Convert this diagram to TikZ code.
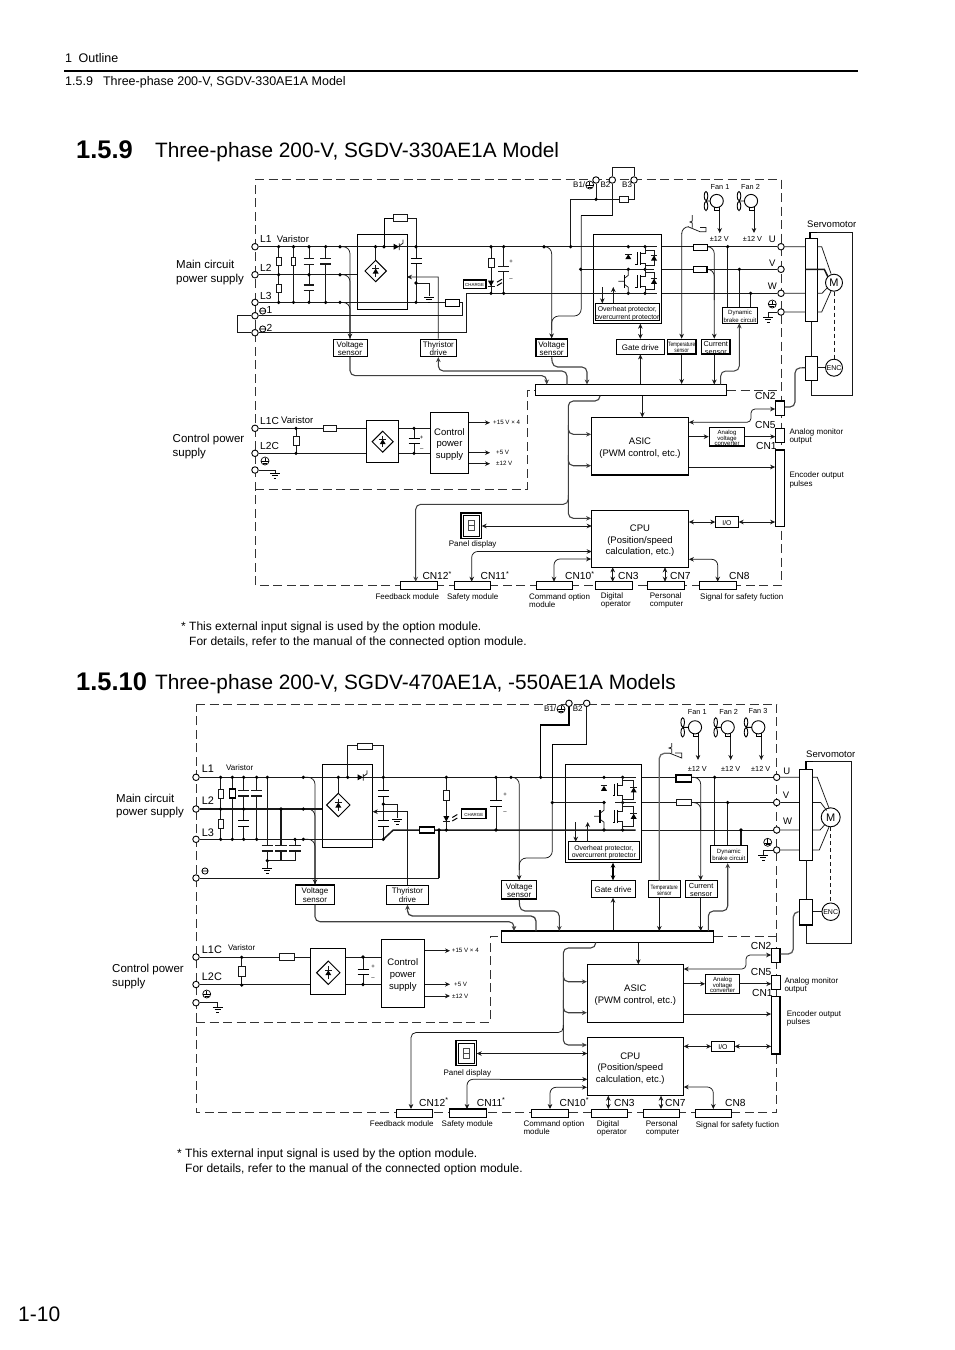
\documentclass[tikz,border=0pt]{standalone}
\usepackage{fontspec}
\setmainfont{Liberation Sans}
\usetikzlibrary{arrows.meta,calc}
\newcommand{\fn}[2]{\fontsize{#1}{#2}\selectfont}
\tikzset{
  wire/.style={line width=.75pt,black!90},
  thk/.style={line width=1.5pt,black!90},
  sig/.style={line width=1.1pt,black!75,rounded corners=5pt},
  rnd/.style={rounded corners=7pt},
  arr/.style={-{Stealth[length=5pt,width=4.6pt]}},
  darr/.style={{Stealth[length=5pt,width=4.6pt]}-{Stealth[length=5pt,width=4.6pt]}},
  frame/.style={line width=1pt,black!80,dash pattern=on 9pt off 4.5pt},
  box/.style={draw,line width=.8pt,fill=white,inner sep=0pt},
  boxb/.style={box,line width=1.2pt},
  term/.style={circle,draw,fill=white,line width=.9pt,inner sep=0pt,minimum size=6.5pt},
  lbl/.style={inner sep=0pt,anchor=west,align=left,yshift=-1.8pt,execute at begin node=\strut,execute at end node=\strut},
  mid/.style={lbl,anchor=center,align=center},
  fm/.style={font=\fn{11.5}{13.5}},
  fn/.style={font=\fn{12}{15}},
  fh/.style={font=\fn{12.5}{14}},
  fa/.style={font=\fn{10.2}{12}},
  fb/.style={font=\fn{9.5}{11.7}},
  fc/.style={font=\fn{8}{8.4}},
  fd/.style={font=\fn{7.3}{8}},
  fe/.style={font=\fn{6.9}{7.6}},
  ff/.style={font=\fn{6.1}{7.4}},
  fg/.style={font=\fn{4.4}{5}},
  fv/.style={font=\fn{6.2}{5}},
  fw/.style={font=\fn{6}{5.3}},
  fx/.style={font=\fn{10.9}{12}},
  ft/.style={font=\fn{20.8}{24}},
  fz/.style={font=\fn{25.5}{26}\bfseries},
}
\newcommand{\boxat}[7][box]{\node[#1,minimum width={(#5-#3)*1pt},minimum height={(#6-#4)*1pt}] (#2) at ({(#3+#5)/2},{(#4+#6)/2}) {\raisebox{\dimexpr-1.8pt-.25em\relax}[0pt][0pt]{\begin{tabular}{@{}c@{}}#7\end{tabular}}};}
\newcommand{\resbox}[5][wire]{\draw[#1,fill=white] (#2,#3) rectangle (#4,#5);}
\newcommand{\capv}[5][line width=1pt]{\fill[white] (#2-1.5,#3) rectangle (#2+1.5,#4); \draw[#1] (#2-#5,#3) -- (#2+#5,#3) (#2-#5,#4) -- (#2+#5,#4);}
\newcommand{\diodev}[2]{\fill ({#1-3},{#2+2.5}) -- ({#1+3},{#2+2.5}) -- (#1,{#2-2.5}) -- cycle; \draw[wire] ({#1-3.3},{#2-2.5}) -- ({#1+3.3},{#2-2.5});}
\newcommand{\gnd}[2]{\draw[line width=.9pt] (#1-5,#2) -- (#1+5,#2) (#1-3,#2+2.5) -- (#1+3,#2+2.5) (#1-1.3,#2+5) -- (#1+1.3,#2+5);}
\newcommand{\pe}[2]{\draw[line width=.7pt] (#1,#2) circle (4); \draw[line width=.7pt] (#1-3.6,#2+.6) -- (#1+3.6,#2+.6) (#1,#2-3) -- (#1,#2+.6) (#1-2,#2+2.2) -- (#1+2,#2+2.2);}
\newcommand{\minusc}[2]{\draw[line width=.8pt] (#1,#2) circle (3.1) (#1-3.1,#2) -- (#1+3.1,#2);}
\newcommand{\bridge}[3]{\draw[line width=1pt,fill=white] (#1,#2-#3) -- (#1+#3,#2) -- (#1,#2+#3) -- (#1-#3,#2) -- cycle; \draw[wire] (#1,#2-#3*.55) -- (#1,#2+#3*.55); \diodev{#1}{#2}}
\newcommand{\thyr}[2]{\fill (#1-3.5,#2-3) -- (#1-3.5,#2+3) -- (#1+2,#2) -- cycle; \draw[wire] (#1+2.3,#2-3.3) -- (#1+2.3,#2+3.3) (#1+2.5,#2-1) -- (#1+6,#2-3.5) -- (#1+6,#2-7);}
\newcommand{\led}[2]{\fill (#1-3,#2-3) -- (#1+3,#2-3) -- (#1,#2+2.5) -- cycle; \draw[wire] (#1-3.5,#2+2.5) -- (#1+3.5,#2+2.5); \draw[line width=1pt] (#1+6,#2+2) -- (#1+11,#2-1) (#1+6,#2-1.5) -- (#1+11,#2-4.5);}
\newcommand{\igbt}[4]{\draw[wire] (#1,#2) -- (#1,{(#2+#3)/2-5}) -- (#1-5,{(#2+#3)/2-5}) (#1-5,{(#2+#3)/2+5}) -- (#1,{(#2+#3)/2+5}) -- (#1,#3);
  \draw[line width=1pt] (#1-5,{(#2+#3)/2-6.5}) -- (#1-5,{(#2+#3)/2+6.5}) (#1-8,{(#2+#3)/2-6}) -- (#1-8,{(#2+#3)/2+6}) -- (#1-10,{(#2+#3)/2+6});
  \draw[wire] (#1,#2+3.5) -| (#4,#3-3.5) -- (#1,#3-3.5); \diodev{#4}{(#2+#3)/2}}
\newcommand{\bjt}[3]{\draw[wire] (#1,#2) -- (#1,{(#2+#3)/2-6}) -- (#1-4,{(#2+#3)/2-3}) (#1-4,{(#2+#3)/2+3}) -- (#1,{(#2+#3)/2+6}) -- (#1,#3) (#1-10,{(#2+#3)/2}) -- (#1-4,{(#2+#3)/2});
  \draw[line width=1.2pt] (#1-4,{(#2+#3)/2-6.5}) -- (#1-4,{(#2+#3)/2+6.5});}
\newcommand{\fan}[4]{\draw[line width=.9pt] (#1,#2) circle (6.6) (#3,#2) -- (#1-6.6,#2) (#3,#2-5) ellipse (1.8 and 4.6) (#3,#2+5) ellipse (1.8 and 4.6);
  \draw[line width=.9pt] (#1-2,#2+6) -- (#1-2,#2+9.5) -- (#1+3,#2+9.5) -- (#1+3,#2+6);
  \draw[wire,arr] (#1+3,#2+9.5) -- (#1+3,#4);}
\newcommand{\seven}[4]{\draw[line width=1.1pt,fill=white] (#1,#2) rectangle (#3,#4); \draw[line width=.5pt] (#1+2.5,#2+2.5) rectangle (#3-2.5,#4-2.5);
  \draw[line width=.8pt,black!70] ({(#1+#3)/2-2.6},{(#2+#4)/2-5}) rectangle ({(#1+#3)/2+2.6},{(#2+#4)/2+5}) ({(#1+#3)/2-2.6},{(#2+#4)/2}) -- ({(#1+#3)/2+2.6},{(#2+#4)/2});}
\begin{document}
\begin{tikzpicture}[x=1pt,y=-1pt]
  \useasboundingbox (0,0) rectangle (954,1350);
  \node[lbl,fh] (chapter) at (65,57.5) {1\hspace{6.5pt}Outline};
  \draw[line width=2pt] (64,70.7) -- (858,70.7);
  \node[lbl,fh] (section) at (65,81) {1.5.9\hspace{10pt}Three-phase 200-V, SGDV-330AE1A Model};
  \node[lbl,fz] (numA) at (76,151.5) {1.5.9};
  \node[lbl,ft] (titleA) at (155,151) {Three-phase 200-V, SGDV-330AE1A Model};
  \node[lbl,fz] (numB) at (76,683.5) {1.5.10};
  \node[lbl,ft] (titleB) at (155,683) {Three-phase 200-V, SGDV-470AE1A, -550AE1A Models};
  \node[lbl,font=\fn{21}{24}] (pageno) at (18,1315) {1-10};

  % first model
  \draw[frame] (255,179) -- (781,179) -- (781,585) -- (255,585) -- cycle;
  \draw[frame] (255,489) -- (527,489) -- (527,390) -- (535,390) (727,390) -- (781,390);
  \boxat{brgA}{357}{234}{407}{309}{}
  \boxat{igbtA}{593.3}{234.3}{661.7}{323.3}{}
  \boxat[boxb,fe]{ohpA}{595.7}{303.3}{659}{320.7}{Overheat protector,\\overcurrent protector}
  \boxat[box,fc]{vsenseA}{333}{339}{367}{356.7}{Voltage\\sensor}
  \boxat[box,fc]{thyA}{420}{339}{456.7}{356.7}{Thyristor\\drive}
  \boxat[boxb,fc]{vsenseBA}{536}{339}{567.3}{356.7}{Voltage\\sensor}
  \boxat[box,fc]{gateA}{616.7}{339.3}{664}{354}{Gate drive}
  \boxat[boxb,fv]{tempA}{667.3}{339.3}{696}{354}{\scalebox{.78}[1]{Temperature}\\[1pt]\scalebox{.78}[1]{sensor}}
  \boxat[boxb,fd]{curA}{701.7}{339.3}{730}{354}{Current\\sensor}
  \boxat[box,ff]{brakeA}{722.3}{307}{757.7}{323}{Dynamic\\brake circuit}
  \boxat[boxb,fg]{chargeA}{463.3}{280}{486}{288.3}{CHARGE}
  \boxat[box,line width=1pt]{barA}{535.5}{384.5}{726.5}{395.5}{}
  \boxat[boxb]{rectA}{366.7}{420.3}{398.7}{462.3}{}
  \boxat[box,fb]{ctlA}{430.3}{412.3}{468.7}{473}{Control\\power\\supply}
  \boxat[boxb,fb]{asicA}{591.7}{417.3}{688.3}{475}{ASIC\\(PWM control, etc.)}
  \boxat[boxb,fb]{cpuA}{591.7}{510.7}{688.3}{567.3}{CPU\\(Position/speed\\calculation, etc.)}
  \boxat[boxb,fw]{avcA}{709.3}{427.3}{744.7}{446}{Analog\\voltage\\converter}
  \boxat[box,fe]{ioA}{715.7}{516.7}{738.3}{527.3}{I/O}
  \boxat{mA}{805.7}{238.3}{817}{321.7}{}
  \boxat{encbA}{805.7}{356.7}{817}{380.7}{}
  \boxat[boxb]{cn2A}{775.7}{401}{784.3}{415.7}{}
  \boxat[box]{cn5A}{775.7}{428.3}{784.3}{442.3}{}
  \boxat[boxb]{cn1A}{775.7}{450}{784.3}{526.7}{}
  \boxat[box]{cn12A}{400.7}{581.7}{437.7}{589.3}{}
  \boxat[box]{cn11A}{454.3}{581.7}{490.7}{589.3}{}
  \boxat[box]{cn10A}{536.7}{581.7}{572.7}{589.3}{}
  \boxat[boxb]{cn3A}{595.7}{581.7}{632.3}{589.3}{}
  \boxat[box]{cn7A}{647.3}{581.7}{684.7}{589.3}{}
  \boxat[boxb]{cn8A}{699.3}{581.7}{736.7}{589.3}{}
  \foreach \n/\x/\y in {L1A/255/246.7,L2A/255/274.7,L3A/255/302.4,N1A/255/315.7,N2A/255/332.7,L1CA/255/428.3,L2CA/255/453.3,PECA/255/470,B1A/596/180,B2A/612.3/180,B3A/634/180,UA/781/246.7,VA/781/269.3,WA/781/293.3,PEA/781/312}
    \node[term] (\n) at (\x,\y) {};
  \node[circle,draw,line width=.9pt,inner sep=0pt,minimum size=17pt,fill=white,font=\fn{11}{11}] (motorA) at (834,282.7) {M};
  \node[circle,draw,line width=.9pt,inner sep=0pt,minimum size=17pt,fill=white,font=\fn{7}{7}] (encA) at (834,367.7) {ENC};

  \draw[wire] (L1A) -- (657,246.7);
  \draw[wire] (igbtA.east |- L1A) -- (UA);
  \draw[wire] (L2A) -- (L2A -| brgA.west);
  \draw[wire] (L3A) -- (462,302.4) -- (462,315.7) -- (N1A);
  \draw[thk] (N1A) -- (237.3,315.7);
  \draw[wire] (237.3,315.7) -- (237.3,332.7) -- (N2A);
  \draw[thk] (N2A) -- (466.7,332.7);
  \draw[wire] (466.7,332.7) -- (466.7,293.3) -- (657,293.3);
  \draw[wire] (igbtA.east |- WA) -- (WA);
  \draw[wire] (580.7,269.3) -- (654,269.3);
  \draw[thk] (igbtA.east |- VA) -- (VA);
  \draw[wire] (278.7,246.7) -- (278.7,302.4) (293.5,246.7) -- (293.5,302.4) (309,246.7) -- (309,302.4) (325.7,246.7) -- (325.7,302.4);
  \draw[wire,rnd,arr] (340,246.7) -| (vsenseA.north);
  \draw[wire,rnd] (340,274.7) -| (vsenseA.north);
  \draw[wire,rnd] (340,302.4) -| (vsenseA.north);
  \draw[sig,arr] (vsenseA.south) -- (350,375.6) -| (546.7,384.5);
  \draw[sig,arr] (567,384.5) |- (438.3,371) -- (thyA.south);
  \draw[wire,arr] (thyA.north) -- (438.3,277) [rounded corners=5pt] -- (407,277);
  \draw[line width=1pt] (384,246.7) |- (393,218);
  \draw[wire] (407,218) -| (416,302.4);
  \draw[wire] (375.5,246.7) -- (375.5,262);
  \draw[wire] (416,283) -| (429,296);
  \draw[wire] (491,246.7) -- (491,293.3) (503.7,246.7) -- (503.7,293.3);
  \draw[wire,rnd,arr] (544,246.7) -| (vsenseBA.north);
  \draw[wire] (570.7,246.7) |- (B1A |- 0,199.3) -- (619.3,199.3);
  \draw[wire] (628.3,199.3) -| (B3A);
  \draw[wire] (B1A) -- (596,199.3);
  \draw[wire] (B2A) -- (612.3,167.3) -| (B3A);
  \draw[wire] (B2A) -- (612.3,215.7);
  \draw[line width=1.2pt] (612.3,215.7) -- (581.2,215.7);
  \draw[wire] (581.2,215.7) -- (581.2,300) [rnd] -- (581.2,316) -- (551.7,316) -- (551.7,330);
  \draw[sig,arr] (vsenseBA.south) -- (552.7,367) -| (587,384.5);
  \draw[thk,arr] (602.3,287) -- (602.3,303.3);
  \draw[wire,arr] (613.3,303.3) -- (613.3,287);
  \draw[wire,darr] (igbtA.south -| gateA) -- (gateA.north);
  \draw[wire,arr] (gateA.south |- barA.north) -- (gateA.south);
  \draw[thk,arr] (tempA.south) -- (tempA.south |- barA.north);
  \draw[thk,arr] (curA.south -| 714.3,0) -- (714.3,384.5);
  \draw[sig,arr,line width=1pt] (720.7,384.5) -- (720.7,371) -- (739.3,371) -- (brakeA.south -| 739.3,0);
  \draw[wire,arr] (681.7,233) -- (tempA.north);
  \draw[wire,rnd] (681.7,233) -- (681.7,226.7) -- (688,226.7);
  \draw[wire] (688,226.7) -- (700,231.7) -- (706,231.7) -- (706,227.5) -- (700,227.5) (692.3,215) -- (692.3,221) -- (690,222) -- (692.3,223) -- (692.3,227.5);
  \draw[wire,rnd,arr] (707,246.7) -| (curA.north -| 714.3,0);
  \draw[wire,rnd] (707,269.3) -| (714.3,300);
  \draw[wire] (727.7,246.7) -- (727.7,307) (739.3,269.3) -- (739.3,307) (750.7,293.3) -- (750.7,307);
  \draw[wire] (UA) -- (mA.west |- UA) (mA.east |- UA) -- (821.7,246.7) -- (831,273.6);
  \draw[thk] (mA.west |- VA) -- (mA.east |- VA) -- (824.3,269.3) -- (828,277);
  \draw[wire] (WA) -- (mA.west |- WA) (mA.east |- WA) -- (822,293.3) -- (827.5,287.5);
  \draw[wire] (PEA) -- (mA.west |- PEA) (mA.east |- PEA) -- (821.7,312) -- (831,291);
  \draw[wire] (PEA) -| (768.3,316.7);
  \draw[wire] (816.7,232.7) -- (852.7,232.7) -- (852.7,395) -- (811.7,395) -- (encbA.south -| 811.7,0);
  \draw[line width=1.3pt] (810,238) -- (810,232.7) -- (816.7,232.7);
  \draw[wire] (mA.south -| 811.7,0) -- (811.7,356.7);
  \draw[wire] (encbA.east |- encA) -- (encA);
  \draw[wire,dash pattern=on 4pt off 3pt] (motorA) -- (encA);
  \draw[sig] (cn2A.east |- 0,407) -- (795,407) -- (795,368) -- (encbA.west |- encA);
  \draw[wire] (296,428.3) -- (296,453.3);
  \draw[wire] (L1CA) -- (rectA.west |- L1CA) (L2CA) -- (rectA.west |- L2CA);
  \draw[wire] (rectA.east |- L1CA) -- (ctlA.west |- L1CA) (rectA.east |- L2CA) -- (ctlA.west |- L2CA) (414,428.3) -- (414,453.3);
  \draw[wire] (PECA) -- (275,470) -- (275,473);
  \draw[thk,arr] (ctlA.east |- 0,422.7) -- (490,422.7);
  \draw[wire,arr] (ctlA.east |- 0,452.7) -- (490,452.7);
  \draw[thk,arr] (ctlA.east |- 0,463.7) -- (490,463.7);
  \draw[sig,arr] (600,395.5) -- (600,401) -- (568.3,401) -- (568.3,518.3) -- (cpuA.west |- 0,518.3);
  \draw[sig,arr] (568.3,425) |- (asicA.west |- 0,434.3);
  \draw[sig,arr] (568.3,455) |- (asicA.west |- 0,465.7);
  \draw[sig,arr,line width=1pt] (568.3,495) -- (568.3,504.3) -- (415.7,504.3) -- (415.7,581.7);
  \draw[wire,darr] (481.7,526) -- (591.7,526);
  \draw[wire,rounded corners=6pt,arr] (500,551.5) -- (471.7,551.5) -- (471.7,581.7);
  \draw[wire,arr] (500,551.5) -- (591.7,551.5);
  \draw[wire,darr,rounded corners=6pt] (cpuA.west |- 0,559) -- (554,559) -- (554,581.7);
  \draw[wire,darr] (612.7,567.3) -- (612.7,581.7);
  \draw[wire,darr] (665,567.3) -- (665,581.7);
  \draw[wire,darr,rounded corners=6pt] (cpuA.east |- 0,559.3) -- (717.7,559.3) -- (717.7,581.7);
  \draw[wire,arr] (barA.south -| 642.3,0) -- (642.3,417.3);
  \draw[wire,darr,rounded corners=4pt] (asicA.east |- 0,422.3) -- (751,422.3) -- (751,409) -- (cn2A.west |- 0,409);
  \draw[wire,arr] (asicA.east |- avcA) -- (avcA.west);
  \draw[wire,arr] (avcA.east) -- (cn5A.west |- avcA);
  \draw[wire,arr] (asicA.east |- 0,467) -- (cn1A.west |- 0,467);
  \draw[wire,darr] (cpuA.east |- ioA) -- (ioA.west);
  \draw[wire,darr] (ioA.east) -- (cn1A.west |- ioA);

  \foreach \x/\y in {278.7/246.7,293.5/246.7,309/246.7,325.7/246.7,340/246.7,340/274.7,340/302.4,278.7/274.7,309/274.7,278.7/302.4,293.5/302.4,309/302.4,325.7/302.4,375.5/246.7,384/246.7,416/246.7,416/283,416/302.4,491/246.7,503.7/246.7,544/246.7,570.7/246.7,491/293.3,503.7/293.3,596/199.3,580.7/269.3,628.3/246.7,645/246.7,628.3/269.3,645/269.3,628.3/293.3,645/293.3,727.7/246.7,739.3/269.3,750.7/293.3,296/428.3,296/453.3,414/428.3,414/453.3}
    \fill (\x,\y) circle (1.8);
  \resbox{276.3}{257.7}{281.7}{265.3}
  \resbox{276.3}{284.3}{281.7}{292.3}
  \resbox{291.3}{257.7}{295.7}{265.3}
  \capv[thk]{309}{258.3}{264.3}{5.3}
  \capv[thk]{309}{285}{290.7}{5.3}
  \capv[thk]{325.7}{258.7}{264}{5.3}
  \bridge{375.7}{271}{10.7}
  \thyr{397}{246.7}
  \resbox{393}{214}{407}{221.5}
  \capv{416}{258.3}{263.7}{5.5}
  \gnd{429}{297}
  \resbox[line width=1pt]{445}{299}{459}{306.7}
  \resbox{488}{258.3}{494}{267.3}
  \led{491}{283.7}
  \capv[thk]{503.7}{266.7}{271.7}{5.3}
  \node[mid,font=\fn{6}{6}] (plusA) at (511,260) {+};
  \node[mid,font=\fn{6}{6}] (minusA) at (511,277) {--};
  \resbox{619.3}{196.3}{628.3}{202.3}
  \diodev{628.3}{256.7}
  \bjt{628.3}{269.3}{293.3}
  \igbt{645}{246.7}{269.3}{654}
  \igbt{645}{269.3}{293.3}{654}
  \resbox[line width=1pt]{693.3}{244.3}{707}{250}
  \resbox[line width=1.3pt]{693.3}{266.3}{707}{272.3}
  \fan{716.7}{201}{706}{233}
  \fan{751}{201}{739}{233}
  \pe{772.3}{304}
  \gnd{768.3}{317}
  \minusc{262.7}{311}
  \minusc{262.7}{329}
  \resbox{293}{436.7}{299}{445.3}
  \resbox{323.3}{425}{336.7}{431.5}
  \bridge{382.7}{441.7}{10.5}
  \capv{414}{438.3}{443.7}{5.5}
  \node[mid,font=\fn{6}{6}] (plusCA) at (421.7,436.7) {+};
  \node[mid,font=\fn{6}{6}] (minusCA) at (421.7,447) {--};
  \pe{265}{461}
  \gnd{275}{473}
  \seven{461}{513}{481.7}{538.3}

  \node[lbl,fm] (mainA) at (176,271.5) {Main circuit\\power supply};
  \node[lbl,fm] (ctlpsA) at (172.5,445.5) {Control power\\supply};
  \node[lbl,fa] (tL1A) at (260,238) {L1};
  \node[lbl,fa] (tL2A) at (260,267) {L2};
  \node[lbl,fa] (tL3A) at (260,295) {L3};
  \node[lbl,fb] (tVarA) at (276.7,238) {Varistor};
  \node[lbl,fa] (tN1A) at (266.5,309) {1};
  \node[lbl,fa] (tN2A) at (266.5,327) {2};
  \node[lbl,fa] (tL1CA) at (260,420) {L1C};
  \node[lbl,fa] (tL2CA) at (260,445.7) {L2C};
  \node[lbl,fb] (tVarCA) at (281,419) {Varistor};
  \node[lbl,fc] (tB1A) at (573,184) {B1/};
  \pe{589.7}{185}
  \node[lbl,fc] (tB2A) at (600.3,184) {B2};
  \node[lbl,fc] (tB3A) at (622,184) {B3};
  \node[mid,fd] (tF1A) at (720,186) {Fan 1};
  \node[mid,fd] (tF2A) at (750.5,186) {Fan 2};
  \node[mid,fd] (tV1A) at (719.3,238) {±12 V};
  \node[mid,fd] (tV2A) at (752.5,238) {±12 V};
  \node[mid,fb] (tUA) at (772.3,238) {U};
  \node[mid,fb] (tVA) at (772.3,262) {V};
  \node[mid,fb] (tWA) at (772.3,285) {W};
  \node[lbl,fb] (tServoA) at (807,223) {Servomotor};
  \node[lbl,fv] (t15A) at (493,421.7) {+15 V × 4};
  \node[lbl,fv] (t5A) at (496,451.7) {+5 V};
  \node[lbl,fv] (t12A) at (496,462.7) {±12 V};
  \node[mid,fc] (tPanelA) at (472.7,543) {Panel display};
  \node[mid,fc] (tFbA) at (407.3,596.3) {Feedback module};
  \node[mid,fc] (tSafeA) at (472.7,596.3) {Safety module};
  \node[lbl,fc] (tCmdA) at (529,600) {Command option\\module};
  \node[lbl,fc] (tDigA) at (600.7,599) {Digital\\operator};
  \node[lbl,fc] (tPcA) at (649.7,599) {Personal\\computer};
  \node[lbl,fc] (tSigA) at (700,596.3) {Signal for safety fuction};
  \node[lbl,fc] (tAmoA) at (789.3,435) {Analog monitor\\output};
  \node[lbl,fc] (tEncA) at (789.3,478.5) {Encoder output\\pulses};
  \node[lbl,fa] (tCN12A) at (422.3,575.5) {CN12\textsuperscript{*}};
  \node[lbl,fa] (tCN11A) at (480.5,575.5) {CN11\textsuperscript{*}};
  \node[lbl,fa] (tCN10A) at (565,575.5) {CN10\textsuperscript{*}};
  \node[lbl,fa] (tCN3A) at (618,575.5) {CN3};
  \node[lbl,fa] (tCN7A) at (670,575.5) {CN7};
  \node[lbl,fa] (tCN8A) at (729,575.5) {CN8};
  \node[lbl,fa] (tCN2A) at (755,395.7) {CN2};
  \node[lbl,fa] (tCN5A) at (755,424.5) {CN5};
  \node[lbl,fa] (tCN1A) at (756,445) {CN1};
  \node[lbl,fn] (noteA) at (181,634.5) {* This external input signal is used by the option module.\\\hspace*{8pt}For details, refer to the manual of the connected option module.};

  % second model
  \draw[frame] (196,704) -- (776.7,704) -- (776.7,1112.7) -- (196,1112.7) -- cycle;
  \draw[frame] (196,1022) -- (490,1022) -- (490,936.7) -- (501,936.7) (714,936.7) -- (776.7,936.7);
  \boxat{brgB}{322.7}{764.3}{372.7}{847.3}{}
  \boxat{igbtB}{565.3}{764.3}{641.3}{862.3}{}
  \boxat[box,fe]{ohpB}{568.3}{841.7}{639.3}{859.3}{Overheat protector,\\overcurrent protector}
  \boxat[boxb,fc]{vsenseB}{295.7}{885}{334.3}{904.3}{Voltage\\sensor}
  \boxat[box,fc]{thyB}{386.7}{885}{428.3}{904.3}{Thyristor\\drive}
  \boxat[boxb,fc]{vsenseBB}{501.7}{880.7}{536.7}{899}{Voltage\\sensor}
  \boxat[box,fc]{gateB}{591}{880.7}{635}{897.3}{Gate drive}
  \boxat[box,fv]{tempB}{648.3}{880.7}{680.3}{897.3}{\scalebox{.78}[1]{Temperature}\\[1pt]\scalebox{.78}[1]{sensor}}
  \boxat[box,fd]{curB}{685}{880.7}{717.3}{897.3}{Current\\sensor}
  \boxat[box,ff]{brakeB}{710}{845}{747.7}{862.7}{Dynamic\\brake circuit}
  \boxat[boxb,fg]{chargeB}{461.7}{809}{486}{818.3}{CHARGE}
  \boxat[box,line width=1.1pt]{barB}{501.7}{931}{713.3}{942.3}{}
  \boxat{rectB}{310.7}{948.3}{345.7}{994.3}{}
  \boxat[box,fb]{ctlB}{381.3}{939.3}{424.3}{1007}{Control\\power\\supply}
  \boxat[box,fb]{asicB}{587.3}{964.3}{683.3}{1022.3}{ASIC\\(PWM control, etc.)}
  \boxat[box,fb]{cpuB}{587.3}{1037.7}{683.3}{1095.7}{CPU\hspace*{10pt}\\(Position/speed\hspace*{10pt}\\calculation, etc.)\hspace*{10pt}}
  \boxat[boxb,fw]{avcB}{705.7}{974.3}{739.3}{993.3}{Analog\\voltage\\converter}
  \boxat[box,fe]{ioB}{711.7}{1041}{734.3}{1051.7}{I/O}
  \boxat{mB}{799.3}{769}{812.7}{860}{}
  \boxat[boxb]{encbB}{799.3}{899.3}{812.7}{925}{}
  \boxat[boxb]{cn2B}{771.7}{948.3}{780}{962.7}{}
  \boxat[box]{cn5B}{771.7}{975.7}{780}{989.3}{}
  \boxat[boxb]{cn1B}{771.7}{996.7}{780}{1054}{}
  \boxat[box]{cn12B}{396}{1109}{432.7}{1117.3}{}
  \boxat[boxb]{cn11B}{449.3}{1109}{486.7}{1117.3}{}
  \boxat[box]{cn10B}{531.3}{1109}{568.3}{1117.3}{}
  \boxat[box]{cn3B}{591.3}{1109}{627.7}{1117.3}{}
  \boxat[box]{cn7B}{643.3}{1109}{679.3}{1117.3}{}
  \boxat[box]{cn8B}{695.3}{1109}{731.7}{1117.3}{}
  \foreach \n/\x/\y in {L1B/196/777.3,L2B/196/809,L3B/196/839.3,N1B/196/878,L1CB/196/957,L2CB/196/984.5,PECB/196/1002.7,B1B/569/703.3,B2B/586.7/703.3,UB/776.7/777.3,VB/776.7/802.5,WB/776.7/830,PEB/776.7/850}
    \node[term] (\n) at (\x,\y) {};
  \node[circle,draw,line width=.9pt,inner sep=0pt,minimum size=19pt,fill=white,font=\fn{11}{11}] (motorB) at (830.7,817.3) {M};
  \node[circle,draw,line width=.9pt,inner sep=0pt,minimum size=17.5pt,fill=white,font=\fn{7}{7}] (encB) at (830.7,911.7) {ENC};

  \draw[wire] (L1B) -- (635.7,777.3);
  \draw[wire] (igbtB.east |- L1B) -- (UB);
  \draw[thk] (L2B) -- (L2B -| brgB.west);
  \draw[wire] (L3B) -- (383.3,839.3);
  \draw[thk] (383.3,839.3) -- (393.3,830) -- (635.7,830);
  \draw[wire] (igbtB.east |- WB) -- (WB);
  \draw[wire] (552.3,802.5) -- (604,802.5);
  \draw[thk] (615,802.5) -- (635.7,802.5);
  \draw[wire] (igbtB.east |- VB) -- (VB);
  \draw[wire] (220.7,777.3) -- (220.7,839.3) (232.3,777.3) -- (232.3,839.3) (243.7,777.3) -- (243.7,839.3);
  \draw[thk] (256.7,777.3) -- (256.7,839.3);
  \draw[wire] (267.3,777.3) -- (267.3,860.7) -- (295,860.7) -- (295,839.3);
  \draw[thk] (281,809) -- (281,860.7);
  \draw[wire] (267.3,860.7) -- (267.3,868);
  \draw[wire,rnd,arr] (303.3,777.3) -| (vsenseB.north);
  \draw[wire,rnd] (303.3,809) -| (vsenseB.north);
  \draw[wire,rnd] (303.3,839.3) -| (vsenseB.north);
  \draw[sig,arr] (vsenseB.south) -- (315,921.7) -| (514,931);
  \draw[sig,arr,line width=1.3pt] (536,931) |- (407.5,916) -- (thyB.south);
  \draw[wire,arr] (thyB.north) -- (407.5,811.7) [rounded corners=5pt] -- (372.7,811.7);
  \draw[wire] (338.3,777.3) -- (338.3,795);
  \draw[wire] (347.7,777.3) |- (357.7,745.7);
  \draw[wire] (372.7,745.7) -| (383.3,839.3);
  \draw[wire] (383.3,804) -| (397.3,818);
  \draw[thk] (439,830) -- (439,878);
  \draw[wire] (439,878) -- (N1B);
  \draw[wire] (446.3,777.3) -- (446.3,830) (496,777.3) -- (496,830);
  \draw[wire,rnd,arr] (511,777.3) -| (vsenseBB.north);
  \draw[line width=1.1pt] (B1B) -- (569,725) -| (540.7,777.3);
  \draw[thk] (B2B) -- (586.7,744.3);
  \draw[line width=1.1pt] (586.7,744.3) -| (552.3,800);
  \draw[wire] (552.3,800) -- (552.3,840) [rnd] -- (552.3,858) -- (519.3,858) -- (519.3,870);
  \draw[sig,arr] (vsenseBB.south) -- (520,911) -| (559.3,931);
  \draw[wire,arr] (575.7,822) -- (575.7,841.7);
  \draw[wire,arr] (587.7,841.7) -- (587.7,822);
  \draw[line width=1.1pt,darr] (igbtB.south -| gateB) -- (gateB.north);
  \draw[wire,arr] (gateB.south |- barB.north) -- (gateB.south);
  \draw[wire,arr] (tempB.south -| 659.3,0) -- (659.3,931);
  \draw[wire,arr] (curB.south -| 700.7,0) -- (700.7,931);
  \draw[sig,arr] (708.3,931) -- (708.3,911) -- (727.7,911) -- (brakeB.south -| 727.7,0);
  \draw[sig,line width=1.3pt,black!60] (659.3,880.7) -- (659.3,753.3) -- (670,753.3);
  \draw[wire] (670,753.3) -- (681.7,758) -- (681.7,753) -- (675,753) (671.7,743) -- (671.7,747) -- (669,748) -- (671.7,749) -- (671.7,753);
  \draw[wire,rnd,arr] (691.7,777.3) -| (curB.north -| 700.7,0);
  \draw[wire,rnd] (691.7,802.5) -| (700.7,830);
  \draw[wire] (714.7,777.3) -- (714.7,845) (727.7,802.5) -- (727.7,845);
  \draw[thk] (741,830) -- (741,845);
  \draw[wire] (UB) -- (mB.west |- UB) (mB.east |- UB) -- (817.3,777.3) -- (829,808);
  \draw[wire] (VB) -- (mB.west |- VB) (mB.east |- VB) -- (820.7,802.5) -- (826.7,810.5);
  \draw[wire] (WB) -- (mB.west |- WB) (mB.east |- WB) -- (820,830) -- (825,824.5);
  \draw[wire] (PEB) -- (mB.west |- PEB) (mB.east |- PEB) -- (819.3,850) -- (829,827);
  \draw[wire] (PEB) -| (763.3,855);
  \draw[wire] (812.7,761.7) -- (851.7,761.7) -- (851.7,943.3) -- (806,943.3) -- (encbB.south -| 806,0);
  \draw[line width=1.3pt] (806,769) -- (806,761.7) -- (812.7,761.7);
  \draw[wire] (mB.south -| 806,0) -- (806,899.3);
  \draw[wire] (encbB.east |- encB) -- (encB);
  \draw[wire,dash pattern=on 4pt off 3pt] (motorB) -- (encB);
  \draw[sig,line width=1.3pt,black!65] (cn2B.east |- 0,954) -- (793.3,954) -- (793.3,912) -- (encbB.west |- encB);
  \draw[wire] (241.7,957.3) -- (241.7,985);
  \draw[wire] (L1CB) -- (rectB.west |- L1CB) (L2CB) -- (rectB.west |- L2CB);
  \draw[wire] (rectB.east |- L1CB) -- (ctlB.west |- L1CB) (363,957) -- (363,984.5);
  \draw[thk] (rectB.east |- L2CB) -- (ctlB.west |- L2CB);
  \draw[thk] (PECB) -- (217.7,1002.7);
  \draw[wire] (217.7,1002.7) -- (217.7,1007);
  \draw[wire,arr] (ctlB.east |- 0,950.7) -- (450,950.7);
  \draw[wire,arr] (ctlB.east |- 0,984.3) -- (450,984.3);
  \draw[wire,arr] (ctlB.east |- 0,996) -- (450,996);
  \draw[sig,arr] (595.7,942.3) -- (595.7,948) -- (563.3,948) -- (563.3,1045) -- (cpuB.west |- 0,1045);
  \draw[sig,arr] (563.3,972) |- (asicB.west |- 0,981.7);
  \draw[sig,arr] (563.3,1000) |- (asicB.west |- 0,1012.7);
  \draw[wire,rounded corners=5pt,arr] (563.3,1025) -- (563.3,1032.5) -- (411,1032.5) -- (411,1109);
  \draw[thk,arr] (500,1053.5) -- (587.3,1053.5);
  \draw[thk,arr] (500,1053.5) -- (476.7,1053.5);
  \draw[wire,rounded corners=6pt,arr] (500,1079.3) -- (467,1079.3) -- (467,1109);
  \draw[wire,arr] (500,1079.3) -- (587.3,1079.3);
  \draw[wire,darr,rounded corners=6pt] (cpuB.west |- 0,1087.3) -- (550,1087.3) -- (550,1109);
  \draw[wire,darr] (608.3,1095.7) -- (608.3,1109);
  \draw[wire,darr] (661,1095.7) -- (661,1109);
  \draw[wire,darr,rounded corners=6pt] (cpuB.east |- 0,1087) -- (713.3,1087) -- (713.3,1109);
  \draw[wire,arr] (barB.south -| 638.3,0) -- (638.3,964.3);
  \draw[wire,darr,rounded corners=4pt] (asicB.east |- 0,969) -- (746,969) -- (746,955) -- (cn2B.west |- 0,955);
  \draw[wire,arr] (asicB.east |- avcB) -- (avcB.west);
  \draw[wire,arr] (avcB.east) -- (cn5B.west |- avcB);
  \draw[wire,arr] (asicB.east |- 0,1014) -- (cn1B.west |- 0,1014);
  \draw[wire,darr] (cpuB.east |- ioB) -- (ioB.west);
  \draw[wire,darr] (ioB.east) -- (cn1B.west |- ioB);

  \foreach \x/\y in {220.7/777.3,232.3/777.3,243.7/777.3,256.7/777.3,267.3/777.3,303.3/777.3,220.7/809,243.7/809,281/809,303.3/809,220.7/839.3,232.3/839.3,243.7/839.3,256.7/839.3,295/839.3,303.3/839.3,267.3/860.7,338.3/777.3,347.7/777.3,383.3/777.3,383.3/804,383.3/839.3,439/830,446.3/830,496/830,446.3/777.3,496/777.3,511/777.3,540.7/777.3,552.3/802.5,604/777.3,622.7/777.3,604/802.5,622.7/802.5,604/830,622.7/830,714.7/777.3,727.7/802.5,741/830,241.7/957.3,241.7/985,363/957,363/984.5}
    \fill (\x,\y) circle (1.8);
  \resbox{218}{789}{223.5}{798}
  \resbox{218}{819.3}{223.5}{828}
  \resbox[line width=1.1pt]{229.3}{789}{235.3}{798}
  \capv[thk]{243.7}{790.7}{796}{5.5}
  \capv[thk]{256.7}{790.7}{796}{5.5}
  \capv{243.7}{820.7}{826}{5.5}
  \capv[thk]{267.3}{845.7}{851}{5.7}
  \capv[thk]{281}{845.7}{851}{5.7}
  \capv[thk]{295}{845.7}{851}{5.7}
  \gnd{267.3}{868}
  \bridge{338.3}{805}{11.7}
  \thyr{361}{777.3}
  \resbox{357.7}{743}{372.7}{749}
  \capv{383.3}{790.7}{796}{5.5}
  \capv{383.3}{820.7}{826}{5.5}
  \gnd{397.3}{819}
  \resbox[line width=1.1pt]{419.3}{827}{434.3}{833}
  \resbox{443.5}{790.7}{449}{800.3}
  \led{446.3}{819}
  \capv{496}{800.7}{806.7}{5.7}
  \node[mid,font=\fn{6}{6}] (plusB) at (505,793) {+};
  \node[mid,font=\fn{6}{6}] (minusB) at (505,810) {--};
  \diodev{604}{788.3}
  \bjt{604}{802.5}{830}
  \igbt{622.7}{777.3}{802.5}{633.7}
  \igbt{622.7}{802.5}{830}{633.7}
  \resbox[line width=1.1pt]{676}{775}{691.7}{782}
  \resbox{676}{799.5}{691.7}{805.5}
  \fan{695}{727.3}{682.7}{760}
  \fan{727.7}{727.3}{715.7}{760}
  \fan{758.3}{727.3}{746}{760}
  \pe{767.7}{842.3}
  \gnd{763.3}{855}
  \minusc{205}{871}
  \resbox{238.5}{966}{245}{976}
  \resbox{279.3}{953.3}{294.7}{960.7}
  \bridge{328.3}{972.7}{11.7}
  \capv{363}{969.3}{974}{5.5}
  \node[mid,font=\fn{6}{6}] (plusCB) at (373,965) {+};
  \node[mid,font=\fn{6}{6}] (minusCB) at (373,976) {--};
  \pe{206.7}{994}
  \gnd{217.7}{1007}
  \seven{456}{1040.7}{476.7}{1065.7}

  \node[lbl,fm] (mainB) at (116,805) {Main circuit\\power supply};
  \node[lbl,fm] (ctlpsB) at (112,975.5) {Control power\\supply};
  \node[lbl,fx] (tL1B) at (201.7,768) {L1};
  \node[lbl,fx] (tL2B) at (201.7,800) {L2};
  \node[lbl,fx] (tL3B) at (201.7,832) {L3};
  \node[lbl,fc] (tVarB) at (226,766.7) {Varistor};
  \node[lbl,fx] (tL1CB) at (201.7,949) {L1C};
  \node[lbl,fx] (tL2CB) at (201.7,976.3) {L2C};
  \node[lbl,fc] (tVarCB) at (228,947) {Varistor};
  \node[lbl,fc] (tB1B) at (544,708) {B1/};
  \pe{561}{709}
  \node[lbl,fc] (tB2B) at (572.7,708) {B2};
  \node[mid,fd] (tF1B) at (697.3,711.3) {Fan 1};
  \node[mid,fd] (tF2B) at (728.7,711.3) {Fan 2};
  \node[mid,fd] (tF3B) at (758,710) {Fan 3};
  \node[mid,fd] (tV1B) at (697.3,768) {±12 V};
  \node[mid,fd] (tV2B) at (730.7,768) {±12 V};
  \node[mid,fd] (tV3B) at (760.7,768) {±12 V};
  \node[mid,fb] (tUB) at (786.7,770) {U};
  \node[mid,fb] (tVB) at (786,794.7) {V};
  \node[mid,fb] (tWB) at (787.7,820.7) {W};
  \node[lbl,fb] (tServoB) at (806,753) {Servomotor};
  \node[lbl,fv] (t15B) at (451.7,949.7) {+15 V × 4};
  \node[lbl,fv] (t5B) at (454,983.3) {+5 V};
  \node[lbl,fv] (t12B) at (452,995) {±12 V};
  \node[mid,fc] (tPanelB) at (467.3,1072.3) {Panel display};
  \node[mid,fc] (tFbB) at (401.7,1123) {Feedback module};
  \node[mid,fc] (tSafeB) at (467.3,1123) {Safety module};
  \node[lbl,fc] (tCmdB) at (523.3,1127) {Command option\\module};
  \node[lbl,fc] (tDigB) at (596.7,1127) {Digital\\operator};
  \node[lbl,fc] (tPcB) at (645.7,1127) {Personal\\computer};
  \node[lbl,fc] (tSigB) at (695.7,1124) {Signal for safety fuction};
  \node[lbl,fc] (tAmoB) at (784.3,984) {Analog monitor\\output};
  \node[lbl,fc] (tEncB) at (786.7,1017) {Encoder output\\pulses};
  \node[lbl,fa] (tCN12B) at (419,1102.3) {CN12\textsuperscript{*}};
  \node[lbl,fa] (tCN11B) at (476.7,1102.3) {CN11\textsuperscript{*}};
  \node[lbl,fa] (tCN10B) at (559.5,1102.3) {CN10\textsuperscript{*}};
  \node[lbl,fa] (tCN3B) at (614,1102.3) {CN3};
  \node[lbl,fa] (tCN7B) at (665,1102.3) {CN7};
  \node[lbl,fa] (tCN8B) at (725,1102.3) {CN8};
  \node[lbl,fa] (tCN2B) at (750.7,945.7) {CN2};
  \node[lbl,fa] (tCN5B) at (750.7,971.7) {CN5};
  \node[lbl,fa] (tCN1B) at (752,992.3) {CN1};
  \node[lbl,fn] (noteB) at (177,1161.5) {* This external input signal is used by the option module.\\\hspace*{8pt}For details, refer to the manual of the connected option module.};
\end{tikzpicture}
\end{document}
